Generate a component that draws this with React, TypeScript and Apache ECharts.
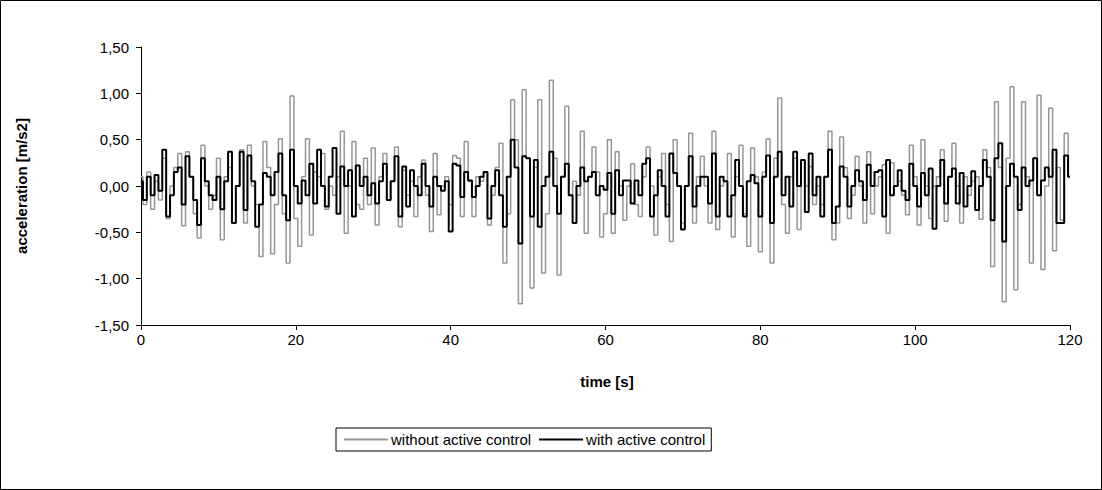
import React, { useEffect, useRef } from "react";
import * as echarts from "echarts";

// sampled every 0.5 s from 0 to 120 s
const SAMPLE_STEP = 0.5;

const withoutControl = [
  0.1, -0.2, 0.15, -0.25, 0.05, -0.15, 0.3, -0.35, 0.0, 0.2, 0.35, -0.43, 0.37, 0.1, -0.3, -0.56, 0.44, 0.0, -0.25, -0.1, 0.3,
  -0.58, 0.1, 0.2, -0.4, 0.0, 0.39, -0.4, 0.44, 0.0, -0.2, -0.76, 0.48, 0.2, -0.73, -0.2, 0.51, -0.3, -0.83, 0.97, -0.35,
  -0.65, 0.1, 0.51, -0.53, 0.15, 0.1, 0.35, -0.25, 0.0, -0.1, 0.1, 0.59, -0.51, 0.0, 0.48, -0.2, -0.25, 0.3, -0.2, 0.41,
  -0.42, 0.1, 0.35, -0.15, 0.05, 0.42, -0.44, 0.17, -0.1, 0.05, -0.33, 0.1, 0.28, -0.1, -0.49, 0.35, -0.31, 0.0, 0.1, -0.2,
  0.33, 0.3, -0.33, 0.48, 0.05, -0.33, 0.1, 0.05, 0.15, -0.42, -0.1, 0.2, 0.46, -0.83, -0.3, 0.93, 0.5, -1.27, 1.04, 0.3,
  -1.1, 0.2, 0.93, -0.94, -0.3, 1.14, 0.3, -0.96, 0.1, 0.86, -0.1, 0.05, -0.1, 0.59, -0.51, 0.1, 0.42, 0.15, -0.55, -0.3,
  0.5, -0.51, 0.37, 0.0, -0.37, 0.0, 0.24, -0.2, -0.33, 0.1, 0.42, 0.0, -0.53, 0.1, 0.35, -0.2, -0.6, 0.5, 0.0, -0.4,
  0.0, 0.57, -0.4, 0.1, 0.32, 0.0, -0.4, 0.59, -0.47, 0.0, 0.05, 0.35, -0.55, 0.1, 0.44, -0.3, -0.65, 0.41, 0.1, -0.71,
  0.15, 0.51, -0.83, 0.3, 0.95, -0.2, -0.51, 0.1, 0.3, -0.47, 0.28, 0.0, 0.21, -0.2, 0.0, -0.2, 0.1, 0.59, -0.58, -0.4,
  0.53, 0.2, -0.35, -0.1, 0.32, 0.0, -0.4, 0.37, -0.3, 0.0, 0.1, 0.23, -0.51, 0.25, 0.0, 0.05, -0.1, -0.31, 0.44, 0.1,
  -0.42, 0.5, 0.0, -0.35, 0.0, 0.1, 0.39, -0.38, 0.1, 0.46, 0.0, -0.4, 0.1, -0.1, 0.05, 0.1, -0.36, 0.39, 0.2, -0.87,
  0.91, 0.2, -1.25, 0.3, 1.07, -1.12, -0.2, 0.91, 0.1, -0.83, 0.3, 0.98, -0.9, 0.0, 0.84, -0.7, 0.2, -0.37, 0.57, 0.1,
];

const withControl = [
  0.05, -0.15, 0.1, -0.1, 0.12, -0.05, 0.39, -0.33, -0.1, 0.15, 0.2, -0.2, 0.32, 0.1, -0.15, -0.42, 0.3, 0.05, -0.1, -0.15, 0.1,
  -0.25, 0.05, 0.37, -0.4, 0.0, 0.37, -0.26, 0.33, 0.05, -0.44, -0.2, 0.14, 0.1, -0.1, 0.15, 0.35, -0.1, -0.37, 0.39, 0.0,
  -0.19, 0.06, -0.1, 0.24, -0.19, 0.39, 0.0, -0.22, 0.1, 0.41, -0.3, 0.21, 0.0, 0.17, -0.33, 0.22, 0.0, 0.1, -0.1, 0.03,
  -0.19, 0.05, 0.24, -0.15, 0.05, 0.32, -0.33, 0.21, -0.22, 0.17, 0.0, -0.1, 0.24, 0.0, -0.22, 0.1, 0.0, -0.05, 0.05, -0.49,
  0.24, 0.22, -0.12, 0.15, 0.06, -0.12, 0.0, 0.1, 0.15, -0.35, 0.0, 0.17, -0.1, -0.44, 0.1, 0.5, 0.2, -0.62, 0.32, 0.3,
  -0.33, 0.28, -0.44, 0.0, 0.1, 0.37, 0.0, -0.3, 0.1, 0.24, -0.1, -0.4, 0.0, 0.2, 0.05, 0.1, 0.15, -0.1, 0.0, -0.04,
  0.14, -0.3, 0.17, -0.1, 0.06, 0.06, -0.19, 0.06, -0.1, 0.24, 0.3, -0.33, -0.1, 0.17, 0.0, -0.33, 0.35, 0.14, 0.0, -0.47,
  0.0, 0.32, -0.22, 0.0, 0.1, 0.1, -0.19, 0.35, -0.33, 0.1, 0.05, -0.33, -0.1, 0.28, 0.0, -0.33, 0.05, 0.12, 0.03, -0.33,
  0.1, 0.33, -0.4, 0.1, 0.37, -0.1, 0.1, -0.22, 0.37, 0.0, 0.28, -0.28, 0.35, -0.1, 0.1, -0.33, 0.1, 0.39, -0.4, -0.22,
  0.21, 0.1, -0.22, 0.0, 0.17, 0.05, -0.15, 0.23, 0.0, 0.15, 0.17, -0.33, 0.28, -0.1, 0.0, 0.17, -0.05, -0.15, 0.24, 0.0,
  -0.22, 0.14, -0.1, 0.19, -0.46, 0.0, 0.28, -0.19, 0.1, 0.19, -0.19, 0.14, -0.22, 0.0, 0.16, -0.26, 0.0, 0.28, 0.1, -0.37,
  0.3, 0.46, -0.6, 0.0, 0.24, 0.1, -0.26, 0.2, 0.0, 0.06, 0.3, -0.1, 0.06, 0.2, 0.1, 0.39, -0.4, -0.4, 0.33, 0.1,
];

const seriesNames = ["without active control", "with active control"];
const seriesColors = ["#969696", "#000000"];
const xTitle = "time [s]";
const yTitle = "acceleration [m/s2]";

export default function App() {
  const ref = useRef<HTMLDivElement>(null);

  useEffect(() => {
    document.body.style.margin = "0";
    const chart = echarts.init(ref.current as HTMLDivElement, null, { renderer: "svg" });
    const font = 'Arial, "Liberation Sans", sans-serif';
    const fs = 15;
    const toPairs = (arr: number[]) => arr.map((v, i) => [i * SAMPLE_STEP, v]);

    chart.setOption({
      animation: false,
      backgroundColor: "#ffffff",
      grid: { left: 141, top: 47, width: 929, height: 278, containLabel: false },
      xAxis: {
        type: "value",
        min: 0,
        max: 120,
        interval: 20,
        axisLine: { show: true, onZero: false, lineStyle: { color: "#000", width: 1 } },
        axisTick: { show: true, inside: false, length: 5, lineStyle: { color: "#000" } },
        splitLine: { show: false },
        axisLabel: { color: "#000", fontSize: fs, fontFamily: font, margin: 7 },
      },
      yAxis: {
        type: "value",
        min: -1.5,
        max: 1.5,
        interval: 0.5,
        axisLine: { show: true, onZero: false, lineStyle: { color: "#000", width: 1 } },
        axisTick: { show: true, inside: false, length: 5, lineStyle: { color: "#000" } },
        splitLine: { show: false },
        axisLabel: {
          color: "#000",
          fontSize: fs,
          fontFamily: font,
          margin: 12,
          formatter: (v: number) => v.toFixed(2).replace(".", ","),
        },
      },
      legend: {
        left: 336,
        top: 428,
        orient: "horizontal",
        padding: [4, 6, 4, 8],
        itemGap: 8,
        itemWidth: 44,
        itemHeight: 2,
        borderColor: "#000",
        borderWidth: 1,
        borderRadius: 0,
        backgroundColor: "#fff",
        textStyle: { color: "#000", fontSize: fs, fontFamily: font, padding: [0, 0, 0, -2] },
        data: seriesNames.map((n) => ({ name: n, icon: "rect" })),
      },
      graphic: [
        {
          type: "rect",
          shape: { x: 0.5, y: 0.5, width: 1101, height: 489 },
          style: { fill: "none", stroke: "#000", lineWidth: 1 },
          silent: true,
        },
        {
          type: "text",
          x: 607,
          y: 381,
          style: {
            text: xTitle,
            fontSize: fs,
            fontWeight: "bold",
            fontFamily: font,
            fill: "#000",
            textAlign: "center",
            textVerticalAlign: "middle",
          },
        },
        {
          type: "text",
          x: 21,
          y: 186,
          rotation: Math.PI / 2,
          style: {
            text: yTitle,
            fontSize: fs,
            fontWeight: "bold",
            fontFamily: font,
            fill: "#000",
            textAlign: "center",
            textVerticalAlign: "middle",
          },
        },
      ],
      series: [
        {
          name: seriesNames[0],
          type: "line",
          data: toPairs(withoutControl),
          step: "middle",
          symbol: "none",
          showSymbol: false,
          color: seriesColors[0],
          lineStyle: { color: seriesColors[0], width: 1.5 },
          z: 2,
        },
        {
          name: seriesNames[1],
          type: "line",
          data: toPairs(withControl),
          step: "middle",
          symbol: "none",
          showSymbol: false,
          color: seriesColors[1],
          lineStyle: { color: seriesColors[1], width: 2 },
          z: 3,
        },
      ],
    });

    return () => chart.dispose();
  }, []);

  return <div ref={ref} style={{ width: 1102, height: 490 }} />;
}
